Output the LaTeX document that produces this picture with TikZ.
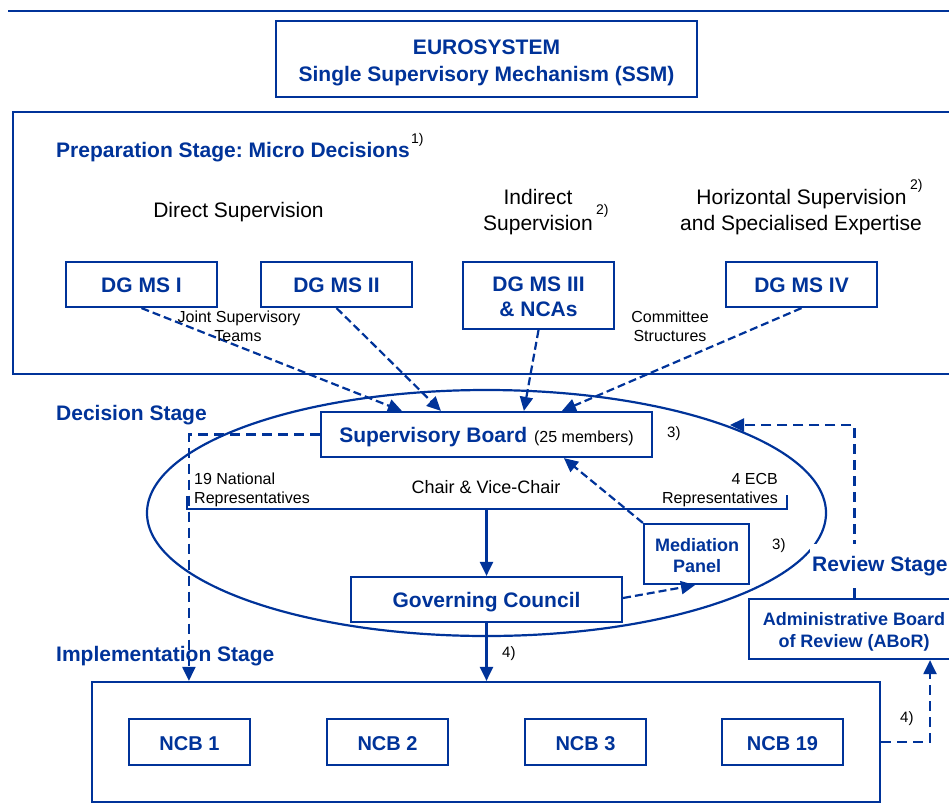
\documentclass[tikz,border=0pt]{standalone}
\usepackage{fontspec}
\setmainfont{Liberation Sans}
\usetikzlibrary{arrows.meta}
\definecolor{ecb}{HTML}{003399}
\frenchspacing
\tikzset{
  box/.style={draw=ecb, line width=2.2pt, rectangle, inner sep=0pt, fill=white},
  bt/.style={text=ecb, font=\bfseries\fontsize{21}{25}\selectfont, anchor=base, inner sep=0pt},
  btn/.style={text=ecb, font=\bfseries\fontsize{20}{24}\selectfont, anchor=base, inner sep=0pt},
  bts/.style={text=ecb, font=\bfseries\fontsize{18}{22}\selectfont, anchor=base, inner sep=0pt},
  rt/.style={text=black, font=\fontsize{21}{25}\selectfont, anchor=base, inner sep=0pt},
  mt/.style={text=black, font=\fontsize{18}{22}\selectfont, anchor=base, inner sep=0pt},
  st/.style={text=black, font=\fontsize{16}{19}\selectfont, anchor=base, inner sep=0pt},
  fn/.style={text=black, font=\fontsize{14}{16}\selectfont, anchor=base west, inner sep=0pt},
  tip/.style={-{Triangle[length=14pt,width=13pt]}},
  dsh/.style={draw=ecb, line width=2.2pt, dash pattern=on 8pt off 4pt},
  dshl/.style={draw=ecb, line width=2.2pt, dash pattern=on 10pt off 6pt},
  sol/.style={draw=ecb, line width=2.2pt},
}
\begin{document}
\begin{tikzpicture}[x=1pt,y=-1pt]
\useasboundingbox (0,0) rectangle (949,808);

% top rule
\coordinate (ruleL) at (8,11);
\coordinate (ruleR) at (960,11);
\draw[ecb, line width=2.6pt] (ruleL) -- (ruleR);

% EUROSYSTEM box
\node[box, minimum width=421pt, minimum height=76pt] (euro) at (486.5,59) {};
\node[bt] (euro1) at (486.5,54) {EUROSYSTEM};
\node[bt] (euro2) at (486.5,81) {Single Supervisory Mechanism (SSM)};

% Preparation stage container
\node[box, minimum width=947pt, minimum height=262pt] (prep) at (486.5,243) {};
\node[bt, anchor=base west] (preplbl) at (56,157) {Preparation Stage: Micro Decisions};
\node[fn] (fn1) at (preplbl.base east) [xshift=1pt, yshift=14pt] {1)};

\node[rt] (direct) at (238.5,217) {Direct Supervision};
\node[rt] (indir1) at (538,204) {Indirect};
\node[rt] (indir2) at (538,230) {Supervision};
\node[fn] (fn2a) at (596,214) {2)};
\node[rt] (horiz1) at (801.5,204) {Horizontal Supervision};
\node[rt] (horiz2) at (801,230) {and Specialised Expertise};
\node[fn] (fn2b) at (910,189) {2)};

\node[box, minimum width=151pt, minimum height=45pt] (dg1) at (141.5,284.5) {};
\node[bt] (dg1t) at (141.5,292) {DG MS I};
\node[box, minimum width=151pt, minimum height=45pt] (dg2) at (336.5,284.5) {};
\node[bt] (dg2t) at (336.5,292) {DG MS II};
\node[box, minimum width=151pt, minimum height=67pt] (dg3) at (538.5,295.5) {};
\node[bt] (dg3t1) at (538.5,291) {DG MS III};
\node[bt] (dg3t2) at (538.5,316) {\& NCAs};
\node[box, minimum width=151pt, minimum height=45pt] (dg4) at (801.5,284.5) {};
\node[bt] (dg4t) at (801.5,292) {DG MS IV};

% Decision stage
\node[bt, anchor=base west] (declbl) at (56,420) {Decision Stage};
\draw[ecb, line width=2.2pt] (486.5,513) ellipse [x radius=339.5pt, y radius=123pt];

\node[box, minimum width=331pt, minimum height=45pt] (sb) at (486.5,434.5) {};
\node[bt] (sbt) at (486.5,442) {Supervisory Board\hspace{7pt}{\color{black}\mdseries\fontsize{16}{19}\selectfont(25 members)}};
\node[fn, font=\fontsize{15}{17}\selectfont] (fn3a) at (667,437) {3)};

\node[st, anchor=base west] (nat1) at (194,484) {19 National};
\node[st, anchor=base west] (nat2) at (194,503) {Representatives};
\node[st, anchor=base east] (ecb1) at (778,484) {4 ECB};
\node[st, anchor=base east] (ecb2) at (778,503) {Representatives};
\node[mt] (chair) at (486,493) {Chair \& Vice-Chair};

\coordinate (brL) at (187,496);
\coordinate (brR) at (787,495);
\coordinate (brM) at (486.5,509);
\draw[sol] (brL) -- ++(0,13) -| (brR);

\node[box, minimum width=271pt, minimum height=45pt] (gc) at (486.5,599.5) {};
\node[bt] (gct) at (486.5,607.5) {Governing Council};

\node[box, minimum width=105pt, minimum height=60pt] (mp) at (696.5,554) {};
\node[bts] (mpt1) at (697,551) {Mediation};
\node[bts] (mpt2) at (697,572) {Panel};
\node[fn, font=\fontsize{15}{17}\selectfont] (fn3b) at (772,549) {3)};

% Implementation stage
\node[bt, anchor=base west] (impllbl) at (56,661) {Implementation Stage};
\node[box, fill=none, minimum width=788pt, minimum height=120pt] (impl) at (486,742) {};
\node[box, minimum width=121pt, minimum height=46pt] (ncb1) at (189.5,742) {};
\node[btn] (ncb1t) at (189.5,750) {NCB 1};
\node[box, minimum width=121pt, minimum height=46pt] (ncb2) at (387.5,742) {};
\node[btn] (ncb2t) at (387.5,750) {NCB 2};
\node[box, minimum width=121pt, minimum height=46pt] (ncb3) at (585.5,742) {};
\node[btn] (ncb3t) at (585.5,750) {NCB 3};
\node[box, minimum width=121pt, minimum height=46pt] (ncb19) at (782.5,742) {};
\node[btn] (ncb19t) at (782.5,750) {NCB 19};
\node[fn, font=\fontsize{15}{17}\selectfont] (fn4a) at (502,657) {4)};
\node[fn, font=\fontsize{15}{17}\selectfont] (fn4b) at (900,722) {4)};

% Review stage
\node[box, minimum width=211pt, minimum height=60pt] (abor) at (854.5,629) {};
\node[bts] (abort1) at (854,625) {Administrative Board};
\node[bts] (abort2) at (854,647) {of Review (ABoR)};
\coordinate (revtip) at (730,425);
\draw[dshl, tip] (abor.north) |- (revtip);
\node[bt, anchor=base west, fill=white, inner xsep=2pt, inner ysep=12pt] (revlbl) at (810,571) {Review Stage};

% connectors
\draw[dsh, tip] (dg1.south) -- ([xshift=82pt]sb.north west);
\draw[dsh, tip] (dg2.south) -- ([xshift=121pt]sb.north west);
\draw[dsh, tip] (dg3.south) -- ([xshift=204pt]sb.north west);
\draw[dsh, tip] (dg4.south) -- ([xshift=242pt]sb.north west);

\draw[dshl, tip] (sb.west) -| ([xshift=98pt]impl.north west);
\draw[sol, tip] (brM) -- (gc.north);
\draw[dsh, tip] (mp.north west) -- ([xshift=244pt]sb.south west);
\draw[dsh, tip] ([yshift=1.5pt]gc.east) -- ([xshift=-1.5pt]mp.south);
\draw[sol, tip] (gc.south) -- (gc.south |- impl.north);
\draw[dshl, tip] (impl.east) -| ([xshift=75.5pt]abor.south);

\node[st] (jst1) at (239,322) {Joint Supervisory};
\node[st] (jst2) at (238,341) {Teams};
\node[st] (com1) at (670,322) {Committee};
\node[st] (com2) at (670,341) {Structures};
\end{tikzpicture}
\end{document}
